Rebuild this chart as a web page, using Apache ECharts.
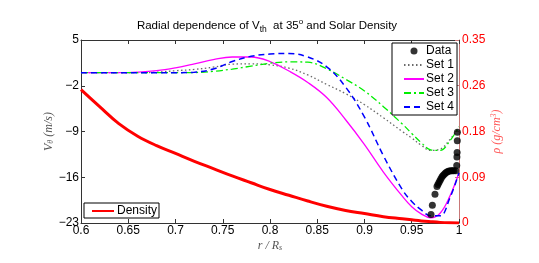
<!DOCTYPE html>
<html><head><meta charset="utf-8">
<script src="https://cdn.jsdelivr.net/npm/echarts@6/dist/echarts.min.js"></script>
<style>html,body{margin:0;padding:0;background:#fff}#c{width:539px;height:263px}</style>
</head><body><div id="c"></div>
<script>
// radius grid (r/Rs)
const rGrid   = [0.60,0.62,0.64,0.66,0.68,0.70,0.72,0.74,0.76,0.78,0.80,0.82,0.84,0.86,0.88,0.90,0.92,0.94,0.95,0.96,0.97,0.98,0.99,1.00];
const set1    = [0,0,0,0,0.08,0.3,0.5,0.85,1.3,1.35,1.2,0.7,-0.35,-1.8,-3.2,-4.9,-6.9,-9.0,-10.0,-11.1,-11.9,-11.7,-10.3,-8.3];
const set2    = [0,0,0,0.08,0.3,0.75,1.35,2.0,2.4,2.4,1.7,0.25,-1.5,-3.8,-7.2,-11.0,-15.2,-18.9,-20.5,-21.6,-22.2,-21.5,-19.0,-15.3];
const set3    = [0,0,0,0,0,0,0.02,0.2,0.55,1.0,1.45,1.65,1.6,0.6,-1.0,-2.8,-5.2,-7.85,-9.3,-10.7,-11.8,-11.9,-10.5,-8.3];
const set4    = [0,0,0,0,0,0,0.08,0.55,1.7,2.5,2.85,2.93,2.4,0.9,-2.2,-6.8,-12.7,-17.9,-19.7,-21.0,-21.9,-21.9,-19.3,-15.3];
const density = [0.255,0.222,0.19,0.166,0.148,0.133,0.118,0.104,0.090,0.077,0.064,0.053,0.042,0.032,0.024,0.018,0.012,0.008,0.006,0.004,0.0025,0.0012,0.0004,0];
// measured data points
const dataR = [0.9704,0.9718,0.9746,0.9767,0.9777,0.9788,0.9799,0.981,0.9822,0.9834,0.9847,0.986,0.9873,0.9887,0.9901,0.9916,0.993,0.9944,0.9965,0.9976,0.9978,0.998,0.9982,0.9983];
const dataV = [-21.7,-20.3,-18.6,-17.4,-17.1,-16.8,-16.5,-16.2,-15.9,-15.7,-15.5,-15.3,-15.2,-15.1,-15.05,-15.0,-15.0,-15.0,-15.0,-14.2,-12.9,-12.2,-10.4,-9.1];
const xTicks = {min:0.6, max:1, interval:0.05};
const yLeft = {min:-23, max:5, interval:7};
const yRight = {min:0, max:0.35, interval:0.0875};

const zip = (xs, ys) => xs.map((x,i)=>[x, ys[i]]);
const FONT = 'Liberation Sans';
const SERIF = 'Liberation Serif';
const noSym = {opacity:0};
const chart = echarts.init(document.getElementById('c'), null, {renderer:'canvas'});
chart.setOption({
  animation:false,
  backgroundColor:'#fff',
  title:{
    text:'Radial dependence of V{sub|th}  at 35{sup|o} and Solar Density',
    left:262, top:12, textAlign:'center',
    textStyle:{fontFamily:FONT, fontSize:11.5, fontWeight:'normal', color:'#000',
      rich:{sub:{fontFamily:FONT,fontSize:8.5,padding:[8,0,0,0]}, sup:{fontFamily:FONT,fontSize:8,padding:[0,0,8,0]}}}
  },
  grid:{left:81, right:80, top:40, bottom:40, containLabel:false},
  legend:[{
    data:[{name:'Data', icon:'circle'},
          {name:'Set 1', itemStyle:noSym},{name:'Set 2', itemStyle:noSym},
          {name:'Set 3', itemStyle:noSym},{name:'Set 4', itemStyle:noSym}],
    orient:'vertical', left:392, top:43,
    itemWidth:20, itemHeight:7, itemGap:2,
    padding:[2,3,2,11], borderColor:'#000', borderWidth:1, backgroundColor:'#fff',
    selectedMode:false,
    textStyle:{fontFamily:FONT, fontSize:12, color:'#000', padding:[0,0,0,-3]}
  },{
    data:[{name:'Density', itemStyle:noSym}],
    orient:'vertical', left:84, top:203,
    itemWidth:22, itemHeight:7, padding:[2,2,1,7],
    borderColor:'#000', borderWidth:1, backgroundColor:'#fff',
    selectedMode:false,
    textStyle:{fontFamily:FONT, fontSize:12, color:'#000', padding:[0,0,0,-2]}
  }],
  xAxis:[{
    type:'value', min:xTicks.min, max:xTicks.max, interval:xTicks.interval,
    position:'bottom',
    name:'r / R{sub|s}', nameLocation:'middle', nameGap:16, nameMoveOverlap:false,
    nameTextStyle:{fontFamily:SERIF, fontStyle:'italic', fontSize:12, color:'#555',
      rich:{sub:{fontFamily:SERIF,fontStyle:'italic',fontSize:8,color:'#555',padding:[5,0,0,0]}}},
    axisLine:{onZero:false, lineStyle:{color:'#333', width:1}},
    axisTick:{inside:true, length:4, lineStyle:{color:'#333'}},
    axisLabel:{margin:2, fontFamily:FONT, fontSize:12, color:'#000'},
    splitLine:{show:false}
  },{
    type:'value', min:xTicks.min, max:xTicks.max, interval:xTicks.interval,
    position:'top',
    axisLine:{onZero:false, lineStyle:{color:'#333', width:1}},
    axisTick:{inside:true, length:4, lineStyle:{color:'#333'}},
    axisLabel:{show:false}, splitLine:{show:false}
  }],
  yAxis:[{
    type:'value', min:yLeft.min, max:yLeft.max, interval:yLeft.interval,
    position:'left',
    name:'V{sub|θ} (m/s)', nameLocation:'middle', nameGap:26, nameRotate:90, nameMoveOverlap:false,
    nameTextStyle:{fontFamily:SERIF, fontStyle:'italic', fontSize:12, color:'#555',
      rich:{sub:{fontFamily:SERIF,fontStyle:'italic',fontSize:8,color:'#555',padding:[5,0,0,0]}}},
    axisLine:{show:true, onZero:false, lineStyle:{color:'#333', width:1}},
    axisTick:{show:true, inside:true, length:4, lineStyle:{color:'#333'}},
    axisLabel:{margin:2, fontFamily:FONT, fontSize:12, color:'#000', formatter:v=>String(v).replace('-','\u2212')},
    splitLine:{show:false}
  },{
    type:'value', min:yRight.min, max:yRight.max, interval:yRight.interval,
    position:'right',
    name:'ρ (g/cm{sup|3})', nameLocation:'middle', nameGap:31, nameRotate:90, nameMoveOverlap:false,
    nameTextStyle:{fontFamily:SERIF, fontStyle:'italic', fontSize:12, color:'#ff5a5a',
      rich:{sup:{fontFamily:SERIF,fontStyle:'italic',fontSize:8,color:'#ff5a5a',padding:[0,0,6,0]}}},
    axisLine:{show:true, onZero:false, lineStyle:{color:'#c87878', width:1}},
    axisTick:{show:true, inside:true, length:4, lineStyle:{color:'#c87878'}},
    axisLabel:{margin:3, fontFamily:FONT, fontSize:12, color:'#ff0000',
      formatter:v=> v===0 ? '0' : (Math.round(v*100)/100).toFixed(2)},
    splitLine:{show:false}
  }],
  series:[
    {name:'Density', type:'line', yAxisIndex:1, data:zip(rGrid,density), smooth:0.4,
      symbol:'none', lineStyle:{color:'#ff0000', width:3}, itemStyle:{color:'#ff0000'}, z:2},
    {name:'Set 1', type:'line', data:zip(rGrid,set1), smooth:0.4, symbol:'none',
      lineStyle:{color:'#6a6a6a', width:1.3, type:[1.5,2.5]}, itemStyle:{color:'#6a6a6a'}, z:3},
    {name:'Set 2', type:'line', data:zip(rGrid,set2), smooth:0.4, symbol:'none',
      lineStyle:{color:'#ff00ff', width:1.3}, itemStyle:{color:'#ff00ff'}, z:3},
    {name:'Set 3', type:'line', data:zip(rGrid,set3), smooth:0.4, symbol:'none',
      lineStyle:{color:'#00ee00', width:1.3, type:[7,3,2,3]}, itemStyle:{color:'#00ee00'}, z:3},
    {name:'Set 4', type:'line', data:zip(rGrid,set4), smooth:0.4, symbol:'none',
      lineStyle:{color:'#0000ff', width:1.5, type:[6,4]}, itemStyle:{color:'#0000ff'}, z:3},
    {name:'Data', type:'scatter', data:zip(dataR,dataV), symbol:'circle', symbolSize:7,
      itemStyle:{color:'#000'}, z:5}
  ]
});
</script></body></html>
